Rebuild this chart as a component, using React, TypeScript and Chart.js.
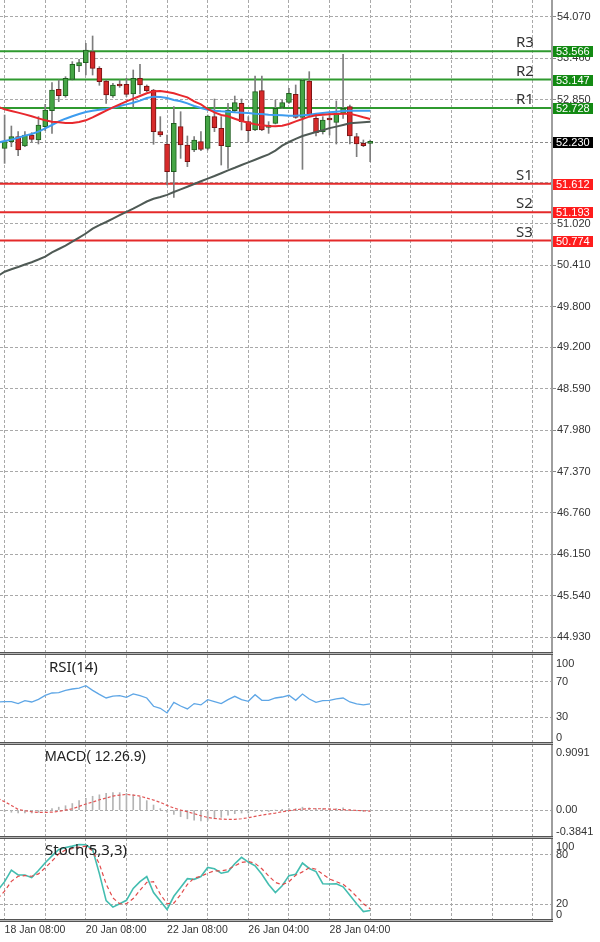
import React, { useEffect, useRef } from "react";
import { Chart, registerables } from "chart.js";

Chart.register(...registerables);

// ---------- price candles (bar index 0..54, 4-hour bars) ----------
const OPEN = [52.134, 52.232, 52.306, 52.168, 52.330, 52.257, 52.453, 52.689, 53.004, 52.910, 53.151, 53.348, 53.397, 53.559, 53.313, 53.126, 52.905, 53.077, 53.077, 52.935, 53.166, 53.053, 52.994, 52.380, 52.198, 51.790, 52.453, 52.183, 52.109, 52.232, 52.134, 52.601, 52.429, 52.158, 52.689, 52.797, 52.527, 52.404, 52.984, 52.444, 52.502, 52.738, 52.812, 52.930, 52.591, 53.126, 52.576, 52.380, 52.566, 52.517, 52.650, 52.748, 52.306, 52.208, 52.208];
const HIGH = [52.625, 52.463, 52.380, 52.380, 52.365, 52.601, 52.783, 53.102, 53.141, 53.190, 53.412, 53.446, 53.682, 53.790, 53.338, 53.141, 53.092, 53.141, 53.166, 53.289, 53.372, 53.068, 53.004, 52.601, 52.330, 52.748, 52.674, 52.316, 52.306, 52.380, 52.625, 52.861, 52.601, 52.797, 52.905, 52.861, 52.601, 53.200, 53.200, 52.527, 52.846, 52.846, 53.018, 53.068, 53.151, 53.264, 52.650, 52.601, 52.650, 52.832, 53.520, 52.773, 52.355, 52.257, 52.257];
const LOW = [51.913, 52.158, 52.026, 52.158, 52.232, 52.198, 52.394, 52.355, 52.822, 52.886, 53.141, 53.264, 53.215, 53.215, 53.063, 52.797, 52.886, 53.033, 52.896, 52.738, 52.935, 52.969, 52.193, 52.306, 51.593, 51.412, 51.986, 51.864, 52.085, 52.100, 52.109, 52.380, 51.888, 51.839, 52.674, 52.404, 52.232, 52.394, 52.394, 52.355, 52.493, 52.724, 52.797, 52.576, 51.824, 52.611, 52.316, 52.345, 52.330, 52.198, 52.576, 52.198, 52.011, 52.158, 51.937];
const CLOSE = [52.232, 52.306, 52.109, 52.330, 52.267, 52.478, 52.699, 52.994, 52.910, 53.166, 53.372, 53.397, 53.584, 53.313, 53.117, 52.920, 53.068, 53.053, 52.930, 53.166, 53.068, 52.984, 52.380, 52.330, 51.790, 52.502, 52.183, 51.937, 52.257, 52.119, 52.611, 52.439, 52.173, 52.699, 52.807, 52.527, 52.394, 52.969, 52.404, 52.463, 52.724, 52.807, 52.945, 52.591, 53.141, 52.625, 52.365, 52.552, 52.552, 52.650, 52.724, 52.316, 52.198, 52.173, 52.230];

// ---------- indicator series (bar index -1..54) ----------
const IND_START = -1;
const MA_RED = [52.748, 52.709, 52.684, 52.660, 52.635, 52.606, 52.576, 52.547, 52.527, 52.517, 52.507, 52.507, 52.522, 52.547, 52.591, 52.640, 52.689, 52.738, 52.782, 52.827, 52.866, 52.905, 52.945, 52.974, 52.979, 52.964, 52.945, 52.915, 52.886, 52.827, 52.782, 52.714, 52.665, 52.625, 52.606, 52.571, 52.537, 52.512, 52.488, 52.473, 52.463, 52.458, 52.468, 52.493, 52.532, 52.566, 52.601, 52.620, 52.630, 52.635, 52.640, 52.645, 52.645, 52.620, 52.591, 52.566];
const MA_BLUE = [52.217, 52.242, 52.262, 52.291, 52.321, 52.345, 52.380, 52.429, 52.478, 52.532, 52.571, 52.606, 52.640, 52.670, 52.689, 52.704, 52.714, 52.733, 52.758, 52.782, 52.807, 52.837, 52.876, 52.896, 52.891, 52.876, 52.846, 52.827, 52.797, 52.758, 52.728, 52.704, 52.689, 52.679, 52.674, 52.665, 52.660, 52.655, 52.645, 52.640, 52.630, 52.625, 52.620, 52.615, 52.615, 52.620, 52.630, 52.645, 52.655, 52.665, 52.674, 52.684, 52.689, 52.689, 52.689, 52.689];
const MA_GRAY = [50.252, 50.315, 50.351, 50.384, 50.421, 50.455, 50.495, 50.538, 50.601, 50.650, 50.700, 50.759, 50.819, 50.878, 50.949, 51.001, 51.048, 51.099, 51.148, 51.198, 51.245, 51.298, 51.350, 51.390, 51.416, 51.447, 51.490, 51.528, 51.567, 51.608, 51.648, 51.688, 51.726, 51.767, 51.809, 51.847, 51.888, 51.926, 51.965, 52.006, 52.044, 52.100, 52.173, 52.227, 52.274, 52.316, 52.345, 52.375, 52.400, 52.432, 52.454, 52.478, 52.503, 52.510, 52.518, 52.527];
const RSI = [47.2, 47.6, 47.6, 45.4, 48.7, 47.2, 50.2, 54.7, 57.3, 57.7, 60.3, 61.8, 62.9, 65.5, 60.3, 55.8, 51.7, 53.9, 54.3, 52.4, 56.2, 54.3, 51.7, 42.4, 40.1, 34.9, 46.8, 42.7, 39.4, 45.4, 43.9, 49.8, 47.6, 45.4, 49.8, 53.6, 49.8, 48.0, 55.4, 49.1, 49.1, 51.7, 52.8, 54.7, 49.1, 56.2, 50.6, 46.8, 48.7, 49.1, 50.6, 51.7, 47.2, 45.0, 43.9, 45.0];
const MACD_HIST = [-0.01, -0.02, -0.03, -0.04, -0.04, -0.04, -0.03, -0.01, 0.02, 0.04, 0.06, 0.09, 0.13, 0.16, 0.19, 0.21, 0.23, 0.24, 0.24, 0.23, 0.21, 0.18, 0.13, 0.07, 0.02, -0.03, -0.06, -0.09, -0.12, -0.14, -0.15, -0.14, -0.12, -0.10, -0.07, -0.05, -0.04, -0.04, -0.02, -0.02, -0.02, 0.0, 0.01, 0.02, 0.02, 0.04, 0.03, 0.02, 0.02, 0.02, 0.02, 0.03, 0.01, -0.01, -0.02, -0.02];
const MACD_SIGNAL = [0.161, 0.115, 0.064, 0.009, -0.009, -0.023, -0.032, -0.032, -0.028, -0.018, 0.0, 0.018, 0.05, 0.083, 0.11, 0.142, 0.165, 0.193, 0.206, 0.216, 0.206, 0.193, 0.165, 0.138, 0.106, 0.064, 0.028, 0.0, -0.023, -0.05, -0.078, -0.101, -0.115, -0.124, -0.128, -0.128, -0.119, -0.106, -0.087, -0.069, -0.055, -0.041, -0.023, -0.009, 0.005, 0.014, 0.018, 0.018, 0.018, 0.014, 0.009, 0.005, 0.0, -0.005, -0.009, -0.014];
const STOCH_K = [37.1, 47.4, 61.2, 55.5, 55.5, 52.2, 60.8, 70.2, 78.4, 86.1, 88.6, 90.2, 92.2, 91.8, 86.1, 57.1, 24.5, 16.7, 20.8, 24.9, 39.2, 47.4, 53.5, 34.3, 24.1, 13.9, 29.8, 40.4, 51.0, 50.2, 53.5, 64.5, 62.9, 57.6, 59.2, 69.0, 76.7, 71.0, 66.5, 56.3, 44.1, 34.3, 42.5, 54.7, 56.3, 69.8, 63.3, 59.6, 44.9, 44.5, 44.9, 41.2, 31.0, 20.8, 11.4, 12.7];
const STOCH_D = [27.0, 35.9, 47.8, 53.9, 54.7, 53.9, 56.7, 64.1, 72.2, 80.8, 85.7, 87.3, 89.0, 90.2, 84.5, 68.6, 44.5, 27.8, 20.8, 20.8, 27.0, 37.1, 46.5, 47.4, 32.2, 20.8, 21.6, 31.8, 44.1, 51.8, 53.9, 57.6, 60.4, 60.4, 62.0, 66.5, 70.6, 71.8, 69.4, 62.9, 54.3, 46.5, 43.7, 47.4, 55.1, 59.2, 64.1, 62.4, 56.3, 50.6, 47.4, 44.1, 37.6, 29.4, 20.8, 14.7];

// ---------- levels ----------
const LEVEL_NAMES = ["R3", "R2", "R1", "S1", "S2", "S3"];
const LEVEL_VALUES = [53.566, 53.147, 52.728, 51.612, 51.193, 50.774];
const LEVEL_TEXT = ["53.566", "53.147", "52.728", "51.612", "51.193", "50.774"];
const LAST_PRICE = 52.23;
const LAST_PRICE_TEXT = "52.230";

// ---------- axis ticks ----------
const PRICE_TICKS = [54.07, 53.46, 52.85, 51.63, 51.02, 50.41, 49.8, 49.2, 48.59, 47.98, 47.37, 46.76, 46.15, 45.54, 44.93];
const PRICE_TICK_LABELS = ["54.070", "53.460", "52.850", "51.630", "51.020", "50.410", "49.800", "49.200", "48.590", "47.980", "47.370", "46.760", "46.150", "45.540", "44.930"];
const HIDDEN_PRICE_LABELS = ["51.630"]; // covered by the S1 price tag in the original
const GRID_BARS = [0, 6, 12, 18, 24, 30, 36, 42, 48, 54, 60, 66, 72, 78];
const DATE_TICK_BARS = [0, 12, 24, 36, 48];
const DATE_TICK_LABELS = ["18 Jan 08:00", "20 Jan 08:00", "22 Jan 08:00", "26 Jan 04:00", "28 Jan 04:00"];
const RSI_LABEL_VALUES = [100, 70, 30, 0];
const RSI_LABELS = ["100", "70", "30", "0"];
const MACD_LABEL_VALUES = [0.9091, 0, -0.3841];
const MACD_LABELS = ["0.9091", "0.00", "-0.3841"];
const STOCH_LABEL_VALUES = [100, 80, 20, 0];
const STOCH_LABELS = ["100", "80", "20", "0"];

// ---------- styling ----------
const X_MIN = -0.68;
const X_MAX = 80.86;
const Y_AXIS_W = 48;
const GRID_COLOR = "#a9a9a9";
const AXIS_FONT = "'Liberation Sans', Arial, sans-serif";
const TITLE_FONT = "'Noto Sans', 'Open Sans', sans-serif";
const UP_FILL = "#45a545";
const UP_EDGE = "#1f5f1f";
const DN_FILL = "#d62a2a";
const DN_EDGE = "#7a1414";
const WICK = "#7d7d7d";
const RES_COLOR = "#2f9a2f";
const SUP_COLOR = "#e42a2a";

const pts = (arr: number[], start: number) => arr.map((v, k) => ({ x: k + start, y: v }));

function xAxis(showLabels: boolean): any {
  return {
    type: "linear",
    min: X_MIN,
    max: X_MAX,
    offset: false,
    afterBuildTicks: (s: any) => {
      s.ticks = GRID_BARS.map((v) => ({ value: v }));
    },
    afterFit: (s: any) => {
      s.height = showLabels ? 21 : 0;
      s.paddingLeft = 0;
      s.paddingRight = 0;
    },
    ticks: {
      display: showLabels,
      autoSkip: false,
      maxRotation: 0,
      minRotation: 0,
      align: "start",
      padding: 3,
      color: "#333",
      font: { family: AXIS_FONT, size: 10.5 },
      callback: (v: any) => {
        const k = DATE_TICK_BARS.indexOf(Number(v));
        return k >= 0 ? DATE_TICK_LABELS[k] : "";
      },
    },
    grid: { color: GRID_COLOR, drawTicks: false, offset: false, lineWidth: 1 },
    border: { display: false, dash: [3, 2] },
  };
}

function subYAxis(min: number, max: number, gridVals: number[]): any {
  return {
    position: "right",
    min,
    max,
    afterBuildTicks: (s: any) => {
      s.ticks = gridVals.map((v) => ({ value: v }));
    },
    afterFit: (s: any) => {
      s.width = Y_AXIS_W;
      s.paddingTop = 0;
      s.paddingBottom = 0;
    },
    ticks: { display: false },
    grid: { color: GRID_COLOR, drawTicks: false, lineWidth: 1 },
    border: { display: false, dash: [3, 2] },
  };
}

function subDecor(title: string, titleX: number, titleFont: string, vals: number[], texts: string[]) {
  return {
    id: "subDecor",
    afterDraw(chart: any) {
      const { ctx, chartArea: ca } = chart;
      const y = chart.scales.y;
      ctx.save();
      ctx.font = `11px ${AXIS_FONT}`;
      ctx.fillStyle = "#333";
      ctx.textBaseline = "middle";
      ctx.textAlign = "left";
      vals.forEach((v, i) => {
        let py = y.getPixelForValue(v);
        py = Math.min(Math.max(py, ca.top + 9), ca.bottom - 6);
        ctx.fillText(texts[i], ca.right + 4, py);
      });
      ctx.font = titleFont;
      ctx.fillStyle = "#222";
      ctx.fillText(title, titleX, ca.top + 13);
      ctx.restore();
    },
  };
}

const mainDecor = {
  id: "mainDecor",
  beforeDatasetsDraw(chart: any) {
    const { ctx, chartArea: ca } = chart;
    const y = chart.scales.y;
    ctx.save();
    const by = Math.round(y.getPixelForValue(LAST_PRICE)) + 0.5;
    ctx.setLineDash([3, 2]);
    ctx.strokeStyle = "#8a8a8a";
    ctx.lineWidth = 1;
    ctx.beginPath();
    ctx.moveTo(ca.left, by);
    ctx.lineTo(ca.right, by);
    ctx.stroke();
    ctx.setLineDash([]);
    LEVEL_VALUES.forEach((v, i) => {
      const py = y.getPixelForValue(v);
      ctx.strokeStyle = LEVEL_NAMES[i][0] === "R" ? RES_COLOR : SUP_COLOR;
      ctx.lineWidth = 2;
      ctx.beginPath();
      ctx.moveTo(ca.left, py);
      ctx.lineTo(ca.right, py);
      ctx.stroke();
    });
    ctx.restore();
  },
  afterDraw(chart: any) {
    const { ctx, chartArea: ca } = chart;
    const y = chart.scales.y;
    ctx.save();
    ctx.font = `15px ${TITLE_FONT}`;
    ctx.fillStyle = "#333";
    ctx.textAlign = "left";
    ctx.textBaseline = "alphabetic";
    LEVEL_VALUES.forEach((v, i) => {
      const py = y.getPixelForValue(v);
      ctx.fillText(LEVEL_NAMES[i], ca.right - 36, py - 4);
    });
    const box = (v: number, text: string, color: string) => {
      const py = y.getPixelForValue(v);
      ctx.fillStyle = color;
      ctx.fillRect(ca.right + 1, Math.round(py) - 5, 40, 11);
      ctx.fillStyle = "#fff";
      ctx.font = `11px ${AXIS_FONT}`;
      ctx.textBaseline = "middle";
      ctx.fillText(text, ca.right + 4, Math.round(py) + 0.5);
    };
    LEVEL_VALUES.forEach((v, i) => box(v, LEVEL_TEXT[i], LEVEL_NAMES[i][0] === "R" ? "#138a13" : "#ff1c1c"));
    box(LAST_PRICE, LAST_PRICE_TEXT, "#000");
    ctx.restore();
  },
};

const baseOptions = (): any => ({
  responsive: false,
  maintainAspectRatio: false,
  animation: false,
  devicePixelRatio: 1,
  events: [],
  layout: { padding: 0 },
  plugins: { legend: { display: false }, tooltip: { enabled: false } },
});

function mainConfig(): any {
  const up = OPEN.map((o, i) => CLOSE[i] >= o);
  return {
    type: "bar",
    data: {
      datasets: [
        {
          type: "bar",
          data: HIGH.map((h, i) => ({ x: i, y: [LOW[i], h] })),
          backgroundColor: WICK,
          barThickness: 1,
          grouped: false,
          order: 6,
        },
        {
          type: "bar",
          data: OPEN.map((o, i) => ({ x: i, y: [o, CLOSE[i]] })),
          backgroundColor: up.map((u) => (u ? UP_FILL : DN_FILL)),
          borderColor: up.map((u) => (u ? UP_EDGE : DN_EDGE)),
          borderWidth: 1,
          borderSkipped: false,
          barThickness: 5,
          minBarLength: 2,
          grouped: false,
          order: 5,
        },
        { type: "line", data: pts(MA_GRAY, IND_START), borderColor: "#4f5a55", borderWidth: 2, pointRadius: 0, order: 3 },
        { type: "line", data: pts(MA_BLUE, IND_START), borderColor: "#3d9cef", borderWidth: 2, pointRadius: 0, order: 2 },
        { type: "line", data: pts(MA_RED, IND_START), borderColor: "#e8282d", borderWidth: 2, pointRadius: 0, order: 1 },
      ],
    },
    options: {
      ...baseOptions(),
      scales: {
        x: xAxis(false),
        y: {
          position: "right",
          min: 44.6647,
          max: 54.3206,
          afterBuildTicks: (s: any) => {
            s.ticks = PRICE_TICKS.map((v) => ({ value: v }));
          },
          afterFit: (s: any) => {
            s.width = Y_AXIS_W;
            s.paddingTop = 0;
            s.paddingBottom = 0;
          },
          ticks: {
            autoSkip: false,
            padding: 1,
            color: "#333",
            font: { family: AXIS_FONT, size: 11 },
            callback: (_v: any, i: number) => {
              const t = PRICE_TICK_LABELS[i];
              return HIDDEN_PRICE_LABELS.includes(t) ? "" : t;
            },
          },
          grid: { color: GRID_COLOR, tickLength: 4, tickColor: "#888", tickBorderDash: [], lineWidth: 1 },
          border: { display: false, dash: [3, 2] },
        },
      },
    },
    plugins: [mainDecor],
  };
}

function rsiConfig(): any {
  return {
    type: "line",
    data: {
      datasets: [{ data: pts(RSI, IND_START), borderColor: "#5ea6e6", borderWidth: 1.3, pointRadius: 0 }],
    },
    options: { ...baseOptions(), scales: { x: xAxis(false), y: subYAxis(0, 100, [70, 30]) } },
    plugins: [subDecor("RSI(14)", 49, `15px ${TITLE_FONT}`, RSI_LABEL_VALUES, RSI_LABELS)],
  };
}

function macdConfig(): any {
  return {
    type: "bar",
    data: {
      datasets: [
        { type: "bar", data: pts(MACD_HIST, IND_START), backgroundColor: "#b4b4b4", barThickness: 1, order: 2 },
        {
          type: "line",
          data: pts(MACD_SIGNAL, IND_START),
          borderColor: "#e25555",
          borderWidth: 1.2,
          borderDash: [3, 2],
          pointRadius: 0,
          order: 1,
        },
      ],
    },
    options: { ...baseOptions(), scales: { x: xAxis(false), y: subYAxis(-0.3841, 0.9091, [0]) } },
    plugins: [subDecor("MACD( 12.26.9)", 45, `14px ${AXIS_FONT}`, MACD_LABEL_VALUES, MACD_LABELS)],
  };
}

function stochConfig(): any {
  return {
    type: "line",
    data: {
      datasets: [
        { data: pts(STOCH_D, IND_START), borderColor: "#e24a4a", borderWidth: 1.2, borderDash: [4, 3], pointRadius: 0 },
        { data: pts(STOCH_K, IND_START), borderColor: "#43bdb0", borderWidth: 1.6, pointRadius: 0 },
      ],
    },
    options: { ...baseOptions(), scales: { x: xAxis(true), y: subYAxis(0, 100, [80, 20]) } },
    plugins: [subDecor("Stoch(5,3,3)", 45, `15px ${TITLE_FONT}`, STOCH_LABEL_VALUES, STOCH_LABELS)],
  };
}

function Panel({ top, height, build }: { top: number; height: number; build: () => any }) {
  const ref = useRef<HTMLCanvasElement>(null);
  useEffect(() => {
    const chart = new Chart(ref.current as HTMLCanvasElement, build());
    return () => chart.destroy();
  }, []);
  return (
    <canvas
      ref={ref}
      width={600}
      height={height}
      style={{ position: "absolute", left: 0, top, width: 600, height, display: "block" }}
    />
  );
}

function Separator({ top }: { top: number }) {
  return (
    <div style={{ position: "absolute", left: 0, top, width: 553, height: 3 }}>
      <div style={{ height: 1, background: "#555" }} />
      <div style={{ height: 1, background: "#b5b5b5" }} />
      <div style={{ height: 1, background: "#555" }} />
    </div>
  );
}

export default function App() {
  return (
    <div style={{ position: "absolute", left: 0, top: 0, width: 600, height: 942, background: "#fff", overflow: "hidden" }}>
      <Panel top={0} height={655} build={mainConfig} />
      <Panel top={655} height={89} build={rsiConfig} />
      <Panel top={744} height={94} build={macdConfig} />
      <Panel top={838} height={104} build={stochConfig} />
      <div style={{ position: "absolute", left: 551, top: 0, width: 2, height: 921, background: "#9e9e9e" }} />
      <Separator top={652} />
      <Separator top={742} />
      <Separator top={836} />
      <Separator top={919} />
    </div>
  );
}
